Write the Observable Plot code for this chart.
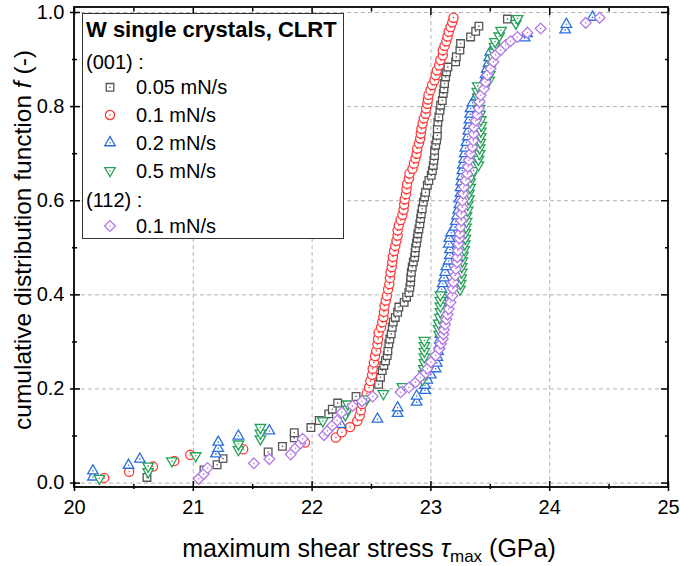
<!DOCTYPE html>
<html><head><meta charset="utf-8">
<script src="https://cdn.jsdelivr.net/npm/d3@7"></script>
<script src="https://cdn.jsdelivr.net/npm/@observablehq/plot@0.6"></script>
<style>
body{margin:0;background:#fff;}
#wrap{width:680px;height:566px;}
</style></head><body><div id="wrap"></div>
<script>
// (001) 0.05 mN/s — [tau_max (GPa), f]
const r001_005 = [[20.61,.012],[21.09,.028],[21.20,.039],[21.25,.052],[21.63,.066],[21.75,.078],[21.85,.096],[21.85,.107],[21.99,.118],[22.06,.133],[22.14,.147],[22.17,.157],[22.215,.17],[22.37,.184],[22.48,.20],[22.56,.21],[22.576,.225],[22.59,.239],[22.604,.25],[22.618,.26],[22.632,.271],[22.638,.281],[22.646,.296],[22.654,.306],[22.666,.317],[22.675,.331],[22.683,.342],[22.70,.352],[22.72,.363],[22.73,.374],[22.775,.384],[22.795,.395],[22.815,.405],[22.823,.416],[22.829,.427],[22.831,.437],[22.835,.448],[22.843,.459],[22.852,.47],[22.863,.48],[22.867,.49],[22.871,.50],[22.879,.51],[22.885,.52],[22.89,.53],[22.899,.54],[22.907,.551],[22.913,.562],[22.919,.572],[22.927,.583],[22.936,.597],[22.947,.608],[22.955,.618],[22.97,.633],[22.983,.643],[23.003,.654],[23.012,.664],[23.02,.675],[23.025,.686],[23.031,.696],[23.031,.707],[23.04,.718],[23.048,.729],[23.054,.739],[23.054,.753],[23.059,.767],[23.067,.778],[23.076,.792],[23.082,.803],[23.096,.813],[23.104,.828],[23.11,.838],[23.115,.849],[23.124,.863],[23.132,.874],[23.143,.884],[23.208,.895],[23.214,.906],[23.244,.92],[23.25,.934],[23.334,.948],[23.377,.96],[23.404,.971],[23.644,.986]];
// (001) 0.1 mN/s
const r001_01 = [[20.25,.011],[20.46,.024],[20.66,.035],[20.84,.047],[20.975,.060],[21.42,.072],[21.94,.086],[22.20,.097],[22.25,.108],[22.32,.119],[22.38,.132],[22.40,.143],[22.41,.155],[22.42,.168],[22.45,.179],[22.46,.19],[22.48,.203],[22.49,.217],[22.505,.23],[22.51,.243],[22.52,.256],[22.53,.27],[22.54,.281],[22.55,.295],[22.555,.306],[22.56,.32],[22.58,.331],[22.59,.342],[22.60,.353],[22.605,.364],[22.61,.377],[22.62,.388],[22.63,.398],[22.64,.412],[22.65,.423],[22.655,.436],[22.66,.448],[22.67,.459],[22.675,.47],[22.68,.481],[22.69,.493],[22.70,.504],[22.71,.515],[22.72,.526],[22.72,.537],[22.73,.548],[22.745,.559],[22.76,.57],[22.77,.581],[22.775,.592],[22.78,.603],[22.79,.614],[22.795,.625],[22.80,.636],[22.815,.647],[22.82,.658],[22.845,.668],[22.857,.679],[22.87,.69],[22.88,.70],[22.885,.711],[22.90,.722],[22.91,.732],[22.915,.743],[22.92,.753],[22.93,.764],[22.94,.775],[22.955,.785],[22.96,.796],[22.97,.806],[22.975,.815],[22.98,.825],[22.997,.835],[23.01,.846],[23.03,.856],[23.04,.867],[23.05,.877],[23.07,.888],[23.08,.899],[23.10,.909],[23.10,.92],[23.115,.929],[23.13,.939],[23.14,.949],[23.15,.959],[23.165,.969],[23.18,.979],[23.19,.989]];
// (001) 0.2 mN/s
const r001_02 = [[20.155,.013],[20.155,.026],[20.455,.038],[20.55,.051],[21.19,.062],[21.21,.074],[21.21,.087],[21.38,.10],[21.64,.111],[22.24,.125],[22.55,.136],[22.72,.148],[22.72,.16],[22.88,.172],[22.88,.185],[22.95,.197],[22.95,.208],[22.97,.219],[23.0,.23],[23.04,.243],[23.05,.255],[23.055,.267],[23.06,.28],[23.07,.292],[23.075,.304],[23.08,.316],[23.085,.328],[23.085,.34],[23.09,.352],[23.09,.364],[23.095,.376],[23.095,.388],[23.096,.40],[23.09,.412],[23.10,.424],[23.11,.436],[23.12,.448],[23.13,.46],[23.15,.472],[23.16,.484],[23.16,.496],[23.15,.508],[23.155,.52],[23.17,.532],[23.2,.544],[23.21,.556],[23.22,.568],[23.23,.58],[23.24,.592],[23.24,.604],[23.25,.616],[23.25,.628],[23.255,.64],[23.26,.652],[23.265,.664],[23.27,.676],[23.28,.688],[23.285,.70],[23.29,.712],[23.30,.724],[23.31,.736],[23.315,.748],[23.32,.76],[23.325,.772],[23.33,.784],[23.334,.796],[23.35,.808],[23.38,.82],[23.40,.832],[23.43,.844],[23.45,.856],[23.46,.868],[23.47,.88],[23.485,.892],[23.49,.904],[23.50,.916],[23.55,.928],[23.79,.946],[23.81,.955],[24.13,.963],[24.14,.975],[24.36,.99]];
// (001) 0.5 mN/s
const r001_05 = [[20.21,.01],[20.62,.024],[20.62,.036],[20.82,.047],[21.02,.058],[21.38,.071],[21.38,.083],[21.565,.094],[21.565,.106],[21.565,.118],[22.09,.132],[22.28,.145],[22.30,.157],[22.30,.168],[22.46,.179],[22.60,.19],[22.76,.205],[22.93,.22],[22.94,.232],[22.94,.243],[22.945,.256],[22.945,.268],[22.945,.28],[22.945,.292],[22.945,.303],[23.07,.316],[23.065,.328],[23.065,.34],[23.075,.352],[23.08,.364],[23.08,.376],[23.08,.388],[23.08,.40],[23.245,.412],[23.25,.424],[23.255,.436],[23.26,.448],[23.26,.46],[23.265,.472],[23.27,.484],[23.28,.496],[23.285,.508],[23.29,.52],[23.29,.532],[23.295,.544],[23.30,.556],[23.30,.568],[23.31,.58],[23.31,.592],[23.32,.604],[23.32,.616],[23.33,.628],[23.33,.64],[23.34,.652],[23.36,.664],[23.40,.676],[23.40,.688],[23.41,.70],[23.41,.712],[23.415,.724],[23.42,.736],[23.42,.748],[23.425,.76],[23.42,.772],[23.415,.784],[23.41,.796],[23.40,.808],[23.395,.82],[23.39,.832],[23.395,.844],[23.49,.856],[23.495,.868],[23.50,.88],[23.51,.892],[23.52,.904],[23.53,.916],[23.535,.928],[23.54,.938],[23.575,.95],[23.59,.962],[23.715,.977],[23.73,.987]];
// (112) 0.1 mN/s
const r112_01 = [[21.045,.009],[21.087,.019],[21.12,.032],[21.51,.042],[21.64,.051],[21.82,.061],[21.86,.074],[21.90,.084],[21.92,.094],[22.10,.102],[22.13,.111],[22.17,.122],[22.21,.133],[22.25,.15],[22.34,.164],[22.42,.174],[22.51,.184],[22.745,.193],[22.815,.203],[22.87,.214],[22.91,.225],[22.955,.234],[22.97,.243],[23.0,.257],[23.04,.271],[23.07,.285],[23.085,.296],[23.10,.306],[23.105,.316],[23.11,.326],[23.12,.337],[23.13,.348],[23.14,.358],[23.15,.37],[23.165,.384],[23.18,.398],[23.185,.413],[23.19,.427],[23.205,.441],[23.21,.455],[23.22,.469],[23.222,.48],[23.227,.494],[23.232,.508],[23.24,.52],[23.244,.53],[23.25,.544],[23.256,.558],[23.256,.572],[23.265,.586],[23.265,.60],[23.273,.615],[23.278,.629],[23.292,.643],[23.307,.657],[23.312,.672],[23.32,.686],[23.334,.70],[23.349,.714],[23.357,.728],[23.36,.742],[23.362,.756],[23.377,.77],[23.39,.783],[23.404,.796],[23.41,.81],[23.419,.824],[23.447,.838],[23.461,.852],[23.475,.867],[23.503,.881],[23.526,.895],[23.545,.91],[23.587,.92],[23.629,.931],[23.67,.939],[23.728,.948],[23.812,.957],[23.924,.966],[24.303,.978],[24.42,.989]];

const xMajor = [20, 21, 22, 23, 24, 25];
const xMinor = [20.5, 21.5, 22.5, 23.5, 24.5];
const yMajor = [0, 0.2, 0.4, 0.6, 0.8, 1.0];
const yMinor = [0.1, 0.3, 0.5, 0.7, 0.9];
const xGrid = [21, 22, 23, 24];
const yGrid = [0, 0.2, 0.4, 0.6, 0.8, 1.0];

const triDown = {draw(ctx, size){const y=-Math.sqrt(size/(Math.sqrt(3)*3)); ctx.moveTo(0,-2*y); ctx.lineTo(Math.sqrt(3)*y,y); ctx.lineTo(-Math.sqrt(3)*y,y); ctx.closePath();}};
const diamond = {draw(ctx, size){const d=Math.sqrt(size)/Math.SQRT2; ctx.moveTo(0,-d); ctx.lineTo(d,0); ctx.lineTo(0,d); ctx.lineTo(-d,0); ctx.closePath();}};

const series = [
  {label:"0.05 mN/s", data:r001_005, color:"#555555", symbol:d3.symbolSquare, r:4.3},
  {label:"0.1 mN/s",  data:r001_01,  color:"#ff3838", symbol:d3.symbolCircle, r:4.6},
  {label:"0.2 mN/s",  data:r001_02,  color:"#2a6ddc", symbol:d3.symbolTriangle, r:3.9},
  {label:"0.5 mN/s",  data:r001_05,  color:"#25a258", symbol:triDown, r:3.9},
  {label:"0.1 mN/s",  data:r112_01,  color:"#b378e6", symbol:diamond, r:4.3}
];

const dotMarks = [];
for (const s of series) {
  dotMarks.push(Plot.dot(s.data, {x: d => d[0], y: d => d[1], symbol: s.symbol, r: s.r, stroke: s.color, fill: "white", strokeWidth: 1.3}));
  dotMarks.push(Plot.dot(s.data, {x: d => d[0], y: d => d[1], r: 0.8, fill: s.color, stroke: "none"}));
}

const FONT = "Arial, 'Liberation Sans', sans-serif";
const noText = () => "";
const chart = Plot.plot({
  width: 680, height: 566,
  marginLeft: 74, marginRight: 12, marginTop: 7, marginBottom: 79,
  x: {domain: [20, 25]},
  y: {domain: [-0.0094, 1.0106]},
  style: {fontFamily: FONT, fontSize: "20px", color: "#000", background: "white"},
  marks: [
    Plot.ruleX(xGrid, {stroke: "#b4b4b4", strokeDasharray: "4,3", strokeWidth: 1}),
    Plot.ruleY(yGrid, {stroke: "#b4b4b4", strokeDasharray: "4,3", strokeWidth: 1}),
    ...dotMarks,
    Plot.axisX(xMajor, {anchor: "bottom", tickSize: 4, tickPadding: 8, tickFormat: d => String(d), label: null, strokeWidth: 1.5}),
    Plot.axisX(xMajor, {anchor: "bottom", tickSize: -6, tickFormat: noText, label: null, strokeWidth: 1.5}),
    Plot.axisX(xMinor, {anchor: "bottom", tickSize: 2, tickFormat: noText, label: null, strokeWidth: 1.5}),
    Plot.axisX(xMinor, {anchor: "bottom", tickSize: -3, tickFormat: noText, label: null, strokeWidth: 1.5}),
    Plot.axisX(xMajor, {anchor: "top", tickSize: -7, tickFormat: noText, label: null, strokeWidth: 1.5}),
    Plot.axisX(xMinor, {anchor: "top", tickSize: -3.5, tickFormat: noText, label: null, strokeWidth: 1.5}),
    Plot.axisY(yMajor, {anchor: "left", tickSize: 4, tickPadding: 6, tickFormat: d3.format(".1f"), label: null, strokeWidth: 1.5}),
    Plot.axisY(yMajor, {anchor: "left", tickSize: -6, tickFormat: noText, label: null, strokeWidth: 1.5}),
    Plot.axisY(yMinor, {anchor: "left", tickSize: 2, tickFormat: noText, label: null, strokeWidth: 1.5}),
    Plot.axisY(yMinor, {anchor: "left", tickSize: -3, tickFormat: noText, label: null, strokeWidth: 1.5}),
    Plot.axisY(yMajor, {anchor: "right", tickSize: -8, tickFormat: noText, label: null, strokeWidth: 1.5}),
    Plot.axisY(yMinor, {anchor: "right", tickSize: -4, tickFormat: noText, label: null, strokeWidth: 1.5})
  ]
});
document.getElementById("wrap").appendChild(chart);

const svg = d3.select(chart);
// frame box from the plot's own scales
const xr = chart.scale("x").range, yr = chart.scale("y").range;
svg.append("rect")
  .attr("x", Math.min(...xr)).attr("y", Math.min(...yr))
  .attr("width", Math.abs(xr[1] - xr[0])).attr("height", Math.abs(yr[1] - yr[0]))
  .attr("fill", "none").attr("stroke", "#000").attr("stroke-width", 1.8);

// axis titles
const xt = svg.append("text").attr("x", 369).attr("y", 557).attr("text-anchor", "middle")
  .attr("font-size", 25).attr("fill", "#000").attr("font-family", FONT);
xt.append("tspan").text("maximum shear stress ");
xt.append("tspan").attr("font-style", "italic").text("τ");
xt.append("tspan").attr("font-size", 17).attr("dy", 5).text("max");
xt.append("tspan").attr("dy", -5).text(" (GPa)");

const yt = svg.append("text").attr("transform", "translate(31,240) rotate(-90)").attr("text-anchor", "middle")
  .attr("font-size", 24.5).attr("fill", "#000").attr("font-family", FONT);
yt.append("tspan").text("cumulative distribution function ");
yt.append("tspan").attr("font-style", "italic").text("f");
yt.append("tspan").text(" (-)");

// legend
const lg = svg.append("g").attr("font-family", FONT).attr("fill", "#000").attr("text-anchor", "start");
lg.append("rect").attr("x", 82.5).attr("y", 13.5).attr("width", 261).attr("height", 225).attr("fill", "white").attr("stroke", "#333").attr("stroke-width", 1);
lg.append("text").attr("x", 86).attr("y", 37).attr("text-anchor", "start").attr("font-size", 22).attr("font-weight", "bold").text("W single crystals, CLRT");
lg.append("text").attr("x", 86).attr("y", 69).attr("text-anchor", "start").attr("font-size", 20).text("(001) :");
lg.append("text").attr("x", 86).attr("y", 207).attr("text-anchor", "start").attr("font-size", 20).text("(112) :");
const rowsY = [87.3, 115, 142.7, 170.7, 226];
series.forEach((s, i) => {
  const cy = rowsY[i];
  lg.append("path").attr("transform", `translate(110,${cy})`)
    .attr("d", d3.symbol(s.symbol, Math.PI * s.r * s.r)())
    .attr("fill", "white").attr("stroke", s.color).attr("stroke-width", 1.3);
  lg.append("circle").attr("cx", 110).attr("cy", cy).attr("r", 0.8).attr("fill", s.color);
  lg.append("text").attr("x", 136).attr("y", cy + 7).attr("text-anchor", "start").attr("font-size", 20).text(s.label);
});
</script>
</body></html>
